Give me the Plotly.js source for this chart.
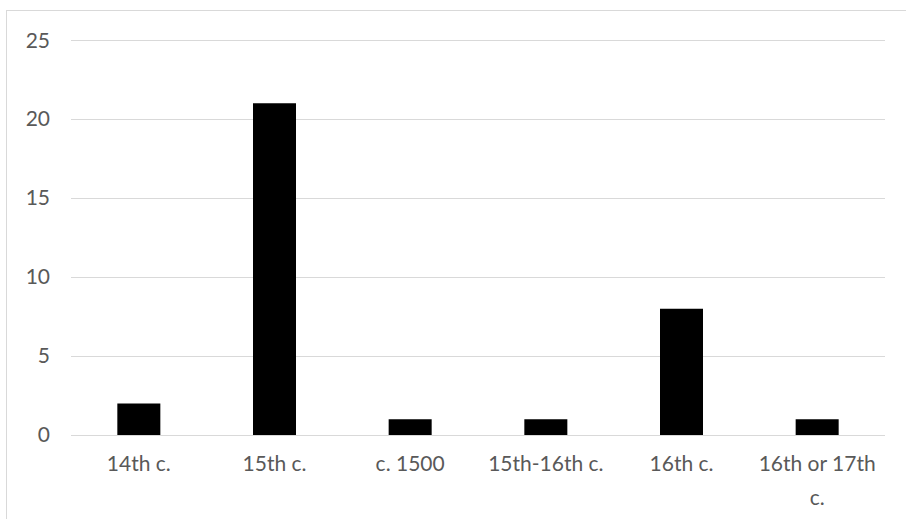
<!DOCTYPE html>
<html>
<head>
<meta charset="utf-8">
<script src="https://cdn.plot.ly/plotly-3.0.1.min.js"></script>
<style>
  html, body { margin: 0; padding: 0; background: #ffffff; }
  #wrap { position: relative; width: 906px; height: 519px; overflow: hidden; }
  #chart { position: absolute; left: 0; top: 0; width: 906px; height: 519px; }
  #frame { position: absolute; left: 6px; top: 10px; width: 940px; height: 560px;
           border: 1px solid #d9d9d9; box-sizing: border-box; pointer-events: none; }
</style>
</head>
<body>
<div id="wrap">
  <div id="chart"></div>
  <div id="frame"></div>
</div>
<script>
// Number of items by dating period
const periods = ["14th c.", "15th c.", "c. 1500", "15th-16th c.", "16th c.", "16th or 17th<br>c."];
const counts = [2, 21, 1, 1, 8, 1];
const yTicks = [0, 5, 10, 15, 20, 25];

const textFont = { family: "Lato, 'Open Sans', sans-serif", size: 21, color: "#595959" };

Plotly.newPlot("chart", [{
  type: "bar",
  x: periods,
  y: counts,
  marker: { color: "#000000", line: { width: 0 } },
  hoverinfo: "x+y"
}], {
  width: 906,
  height: 519,
  margin: { l: 71, r: 21, t: 37, b: 84 },
  paper_bgcolor: "#ffffff",
  plot_bgcolor: "#ffffff",
  bargap: 0.683,
  showlegend: false,
  font: textFont,
  xaxis: {
    type: "category",
    showgrid: false,
    showline: false,
    zeroline: false,
    ticks: "",
    tickfont: textFont,
    ticklabelstandoff: 14
  },
  yaxis: {
    range: [0, 25.2],
    tickvals: yTicks,
    ticktext: yTicks.map(String),
    showgrid: true,
    gridcolor: "#d9d9d9",
    gridwidth: 1,
    zeroline: true,
    zerolinecolor: "#d9d9d9",
    zerolinewidth: 1,
    showline: false,
    ticks: "",
    tickfont: textFont,
    ticklabelstandoff: 20
  }
}, { displayModeBar: false, staticPlot: true }).then(function (gd) {
  // open up the line spacing of wrapped category labels
  gd.querySelectorAll(".xtick text tspan.line").forEach(function (t, i) {
    if (t.getAttribute("dy") && parseFloat(t.getAttribute("dy")) > 0) {
      t.setAttribute("dy", "1.6em");
    }
  });
});
</script>
</body>
</html>
